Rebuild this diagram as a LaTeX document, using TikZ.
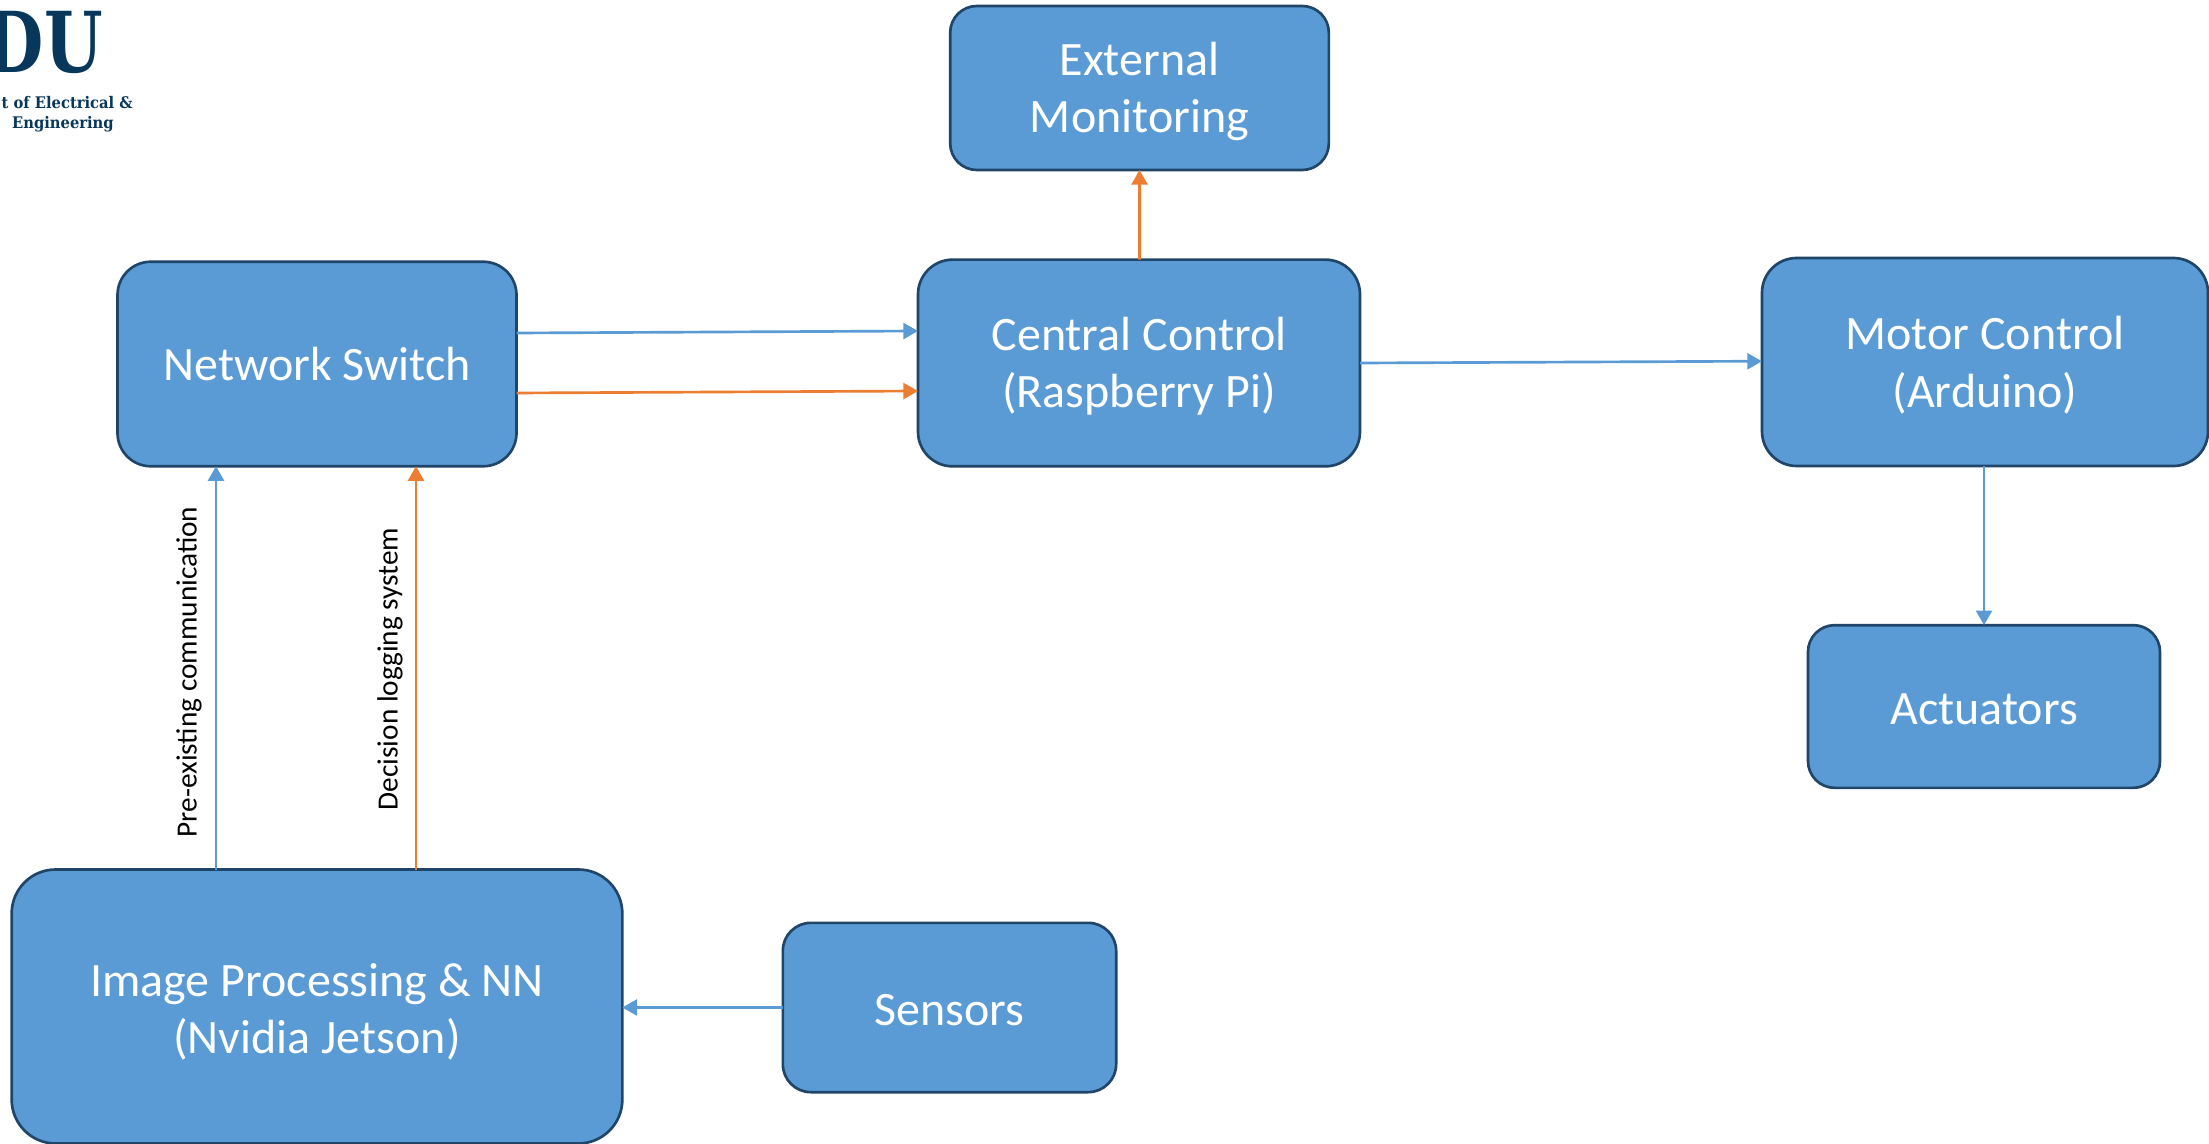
\documentclass[tikz,border=0pt]{standalone}
\usepackage{fontspec}
\usepackage{graphicx}
\usepackage{xcolor}
\usetikzlibrary{arrows.meta}
\newfontfamily\boxfont{Carlito}
\newfontfamily\logofont{DejaVu Serif}
\definecolor{boxfill}{HTML}{5B9BD5}
\definecolor{boxline}{HTML}{1F4568}
\definecolor{linkorange}{HTML}{ED7D31}
\definecolor{logonavy}{HTML}{07375A}
\tikzset{
  blockbox/.style={draw=boxline,fill=boxfill,line width=2pt,text=white,align=center,inner sep=0pt,outer sep=0pt,font=\boxfont\fontsize{36}{43}\selectfont},
  bluelink/.style={draw=boxfill,line width=2pt,-{Triangle[width=12pt,length=11pt]}},
  orangelink/.style={draw=linkorange,line width=2pt,-{Triangle[width=12pt,length=11pt]}},
  sidelabel/.style={rotate=90,inner sep=0pt,text=black,font=\boxfont\fontsize{22}{26}\selectfont},
  logotext/.style={anchor=east,inner sep=0pt,text=logonavy,font=\logofont\fontsize{12}{16}\selectfont\bfseries}
}

\begin{document}
\begin{tikzpicture}[x=0.75pt,y=0.75pt,yscale=-1,xscale=1]
\useasboundingbox (0,0) rectangle (2209,1144);

%Logo, cut by the left edge
\begin{scope}
\clip (0,0) rectangle (2209,1144);
\node [anchor=east,inner sep=0pt,text=logonavy,font=\logofont\fontsize{63}{63}\selectfont\bfseries] (logomark) at (103,42) {\scalebox{0.8}[1]{DU}};
\node [logotext] (logoline1) at (133,103) {\scalebox{0.92}[1]{t of Electrical \&}};
\node [logotext] (logoline2) at (114,124) {\scalebox{0.92}[1]{Engineering}};
\end{scope}

%Blocks
\node [blockbox,rounded corners=25pt,minimum width=299.25pt,minimum height=153.4pt] (switch) at (317,364) {Network Switch};
\node [blockbox,text height=72.7pt,rounded corners=20pt,minimum width=284pt,minimum height=123pt] (external) at (1139.5,88) {External\\Monitoring};
\node [blockbox,text height=72.7pt,rounded corners=26pt,minimum width=331.5pt,minimum height=155pt] (central) at (1139,363) {Central Control\\(Raspberry Pi)};
\node [blockbox,text height=72.7pt,rounded corners=26pt,minimum width=334.5pt,minimum height=156pt] (motor) at (1985,362) {Motor Control\\(Arduino)};
\node [blockbox,text height=27.4pt,rounded corners=20pt,minimum width=264pt,minimum height=122pt] (actuators) at (1984,706.5) {Actuators};
\node [blockbox,text height=75.8pt,rounded corners=33pt,minimum width=458pt,minimum height=205.5pt] (jetson) at (317,1006.5) {Image Processing \& NN\\(Nvidia Jetson)};
\node [blockbox,text height=27.4pt,rounded corners=21pt,minimum width=250pt,minimum height=127pt] (sensors) at (949.5,1007.5) {Sensors};

%Links
\draw [bluelink] ([yshift=-23.25pt]switch.east) -- ([yshift=-24pt]central.west);
\draw [orangelink] ([yshift=21.75pt]switch.east) -- ([yshift=21pt]central.west);
\draw [orangelink] ([xshift=0.4pt]central.north) -- (external.south);
\draw [bluelink] (central.east) -- ([yshift=-0.6pt]motor.west);
\draw [bluelink] ([xshift=-0.75pt]motor.south) -- (actuators.north);
\draw [bluelink] (sensors.west) -- ([yshift=0.75pt]jetson.east);
\draw [bluelink] ([xshift=-75.75pt]jetson.north) -- ([xshift=-75.75pt]switch.south);
\draw [orangelink] ([xshift=74.25pt]jetson.north) -- ([xshift=74.25pt]switch.south);

%Link labels
\node [sidelabel] (labelpre) at (189,672) {Pre-existing communication};
\node [sidelabel] (labeldecision) at (390,669) {Decision logging system};

\end{tikzpicture}
\end{document}
